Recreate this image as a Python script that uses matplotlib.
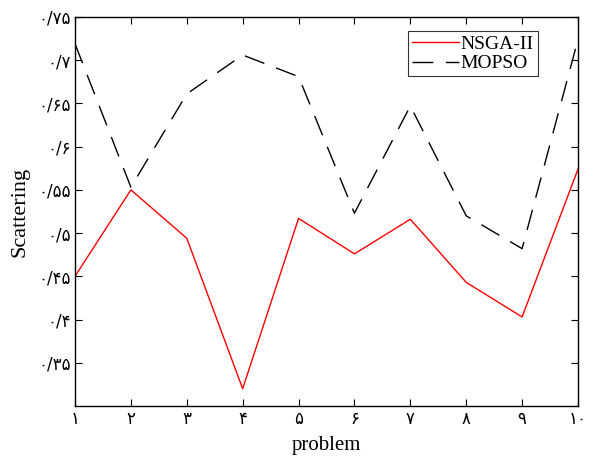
import numpy as np
import matplotlib.pyplot as plt

problems = np.arange(1, 11)
nsga2 = [0.450, 0.550, 0.494, 0.320, 0.517, 0.476, 0.516, 0.443, 0.403, 0.574]
mopso = [0.719, 0.553, 0.661, 0.706, 0.681, 0.523, 0.647, 0.520, 0.482, 0.724]

fa_digits = str.maketrans("0123456789.", "۰۱۲۳۴۵۶۷۸۹/")
y_ticks = [0.35, 0.40, 0.45, 0.50, 0.55, 0.60, 0.65, 0.70, 0.75]
y_labels = [f"{v:g}".translate(fa_digits) for v in y_ticks]
x_labels = [str(p).translate(fa_digits) for p in problems]

plt.rcParams['font.family'] = ['Liberation Serif', 'DejaVu Sans']

fig = plt.figure(figsize=(6.01, 4.59), dpi=100)
ax = fig.add_axes([0.1248, 0.1155, 0.8369, 0.8475])

ax.plot(problems, nsga2, color='red', lw=1.0, label='NSGA-II')
ax.plot(problems, mopso, color='black', lw=1.0, dashes=(15, 9), label='MOPSO')

ax.set_xlim(1, 10)
ax.set_ylim(0.3, 0.75)
ax.set_xticks(problems)
ax.set_xticklabels(x_labels, family=['DejaVu Sans'], fontsize=12)
ax.set_yticks(y_ticks)
ax.set_yticklabels(y_labels, family=['DejaVu Sans'], fontsize=12)
ax.tick_params(direction='in', top=True, right=True, length=5, width=0.8, pad=3)
for s in ax.spines.values():
    s.set_linewidth(1.0)

ax.set_xlabel("problem", fontsize=15, labelpad=6)
ax.set_ylabel("Scattering", fontsize=16, labelpad=6)

leg = ax.legend(loc='upper right', bbox_to_anchor=(0.92, 0.963), fontsize=14,
                frameon=True, fancybox=False, edgecolor='black', handlelength=2.4,
                handletextpad=0.1, borderpad=0.2, labelspacing=0.1, borderaxespad=0)
leg.get_frame().set_linewidth(0.8)

fig.savefig("out.png", dpi=100)
